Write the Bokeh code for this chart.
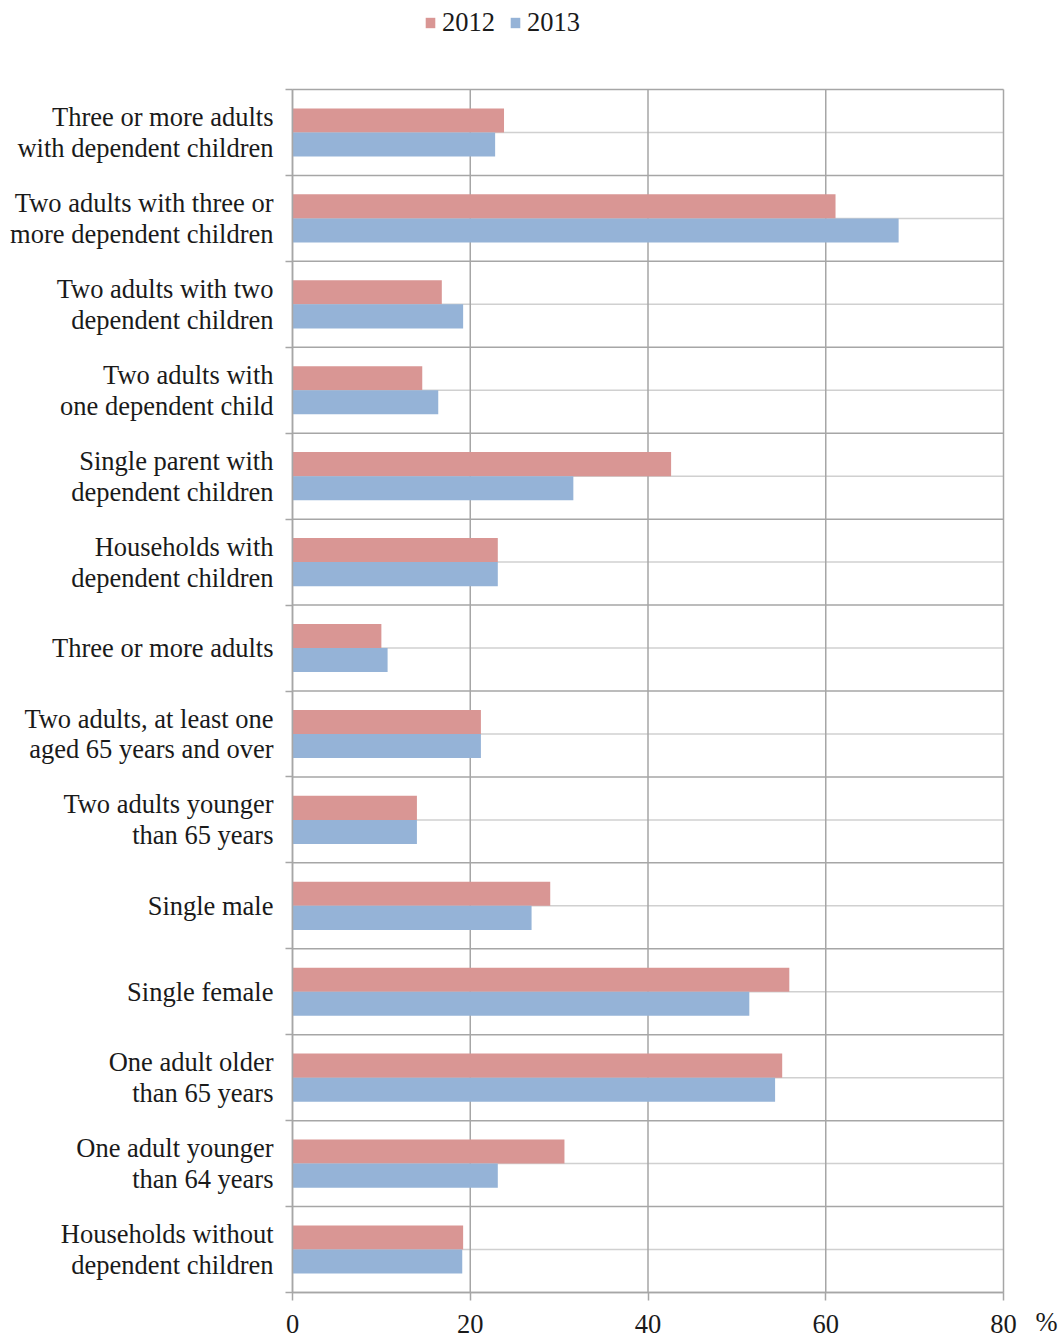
from bokeh.plotting import figure
from bokeh.models import ColumnDataSource, FixedTicker, Legend, LegendItem, Range1d
from bokeh.embed import file_html
from bokeh.resources import INLINE

# Household types, listed top to bottom
categories = [
    "Three or more adults\nwith dependent children",
    "Two adults with three or\nmore dependent children",
    "Two adults with two\ndependent children",
    "Two adults with\none dependent child",
    "Single parent with\ndependent children",
    "Households with\ndependent children",
    "Three or more adults",
    "Two adults, at least one\naged 65 years and over",
    "Two adults younger\nthan 65 years",
    "Single male",
    "Single female",
    "One adult older\nthan 65 years",
    "One adult younger\nthan 64 years",
    "Households without\ndependent children",
]
values_2012 = [23.8, 61.1, 16.8, 14.6, 42.6, 23.1, 10.0, 21.2, 14.0, 29.0, 55.9, 55.1, 30.6, 19.2]
values_2013 = [22.8, 68.2, 19.2, 16.4, 31.6, 23.1, 10.7, 21.2, 14.0, 26.9, 51.4, 54.3, 23.1, 19.1]
x_ticks = [0, 20, 40, 60, 80]
unit = "%"

FONT = "'Liberation Serif'"
FS = "26.5px"
C2012 = "#D99694"
C2013 = "#95B3D7"
GRID = "#A6A6A6"
GRID_MID = "#D0D0D0"
TXT = "#1a1a1a"

n = len(categories)
centers = [n - 1 - i for i in range(n)]
bounds = [c - 0.5 for c in range(n)] + [n - 0.5]
bar_h = 0.28
x_max = 80
y_lo, y_hi = -0.5, n - 0.5

# the frame fills the whole canvas; both axes are pinned to the data area's edges
W, H = 1064, 1337
AREA_L, AREA_R, AREA_T, AREA_B = 292, 1003, 89, 1292
px_x = (AREA_R - AREA_L) / x_max
px_y = (AREA_B - AREA_T) / n
x_range = Range1d(-AREA_L / px_x, x_max + (W - AREA_R) / px_x)
y_range = Range1d(y_lo - (H - AREA_B) / px_y, y_hi + AREA_T / px_y)

src = ColumnDataSource(dict(
    y12=[c + bar_h / 2 for c in centers],
    y13=[c - bar_h / 2 for c in centers],
    v12=values_2012,
    v13=values_2013,
))

p = figure(
    width=W, height=H,
    output_backend="svg", toolbar_location=None,
    x_range=x_range, y_range=y_range,
    min_border=0,
)
p.outline_line_color = None
p.background_fill_color = "white"
p.xgrid.visible = False
p.ygrid.visible = False

# grid lines, limited to the data area
p.segment(x0=0, x1=x_max, y0=centers, y1=centers,
          line_color=GRID_MID, line_width=1.5, level="underlay")
p.segment(x0=0, x1=x_max, y0=bounds, y1=bounds,
          line_color=GRID, line_width=1.5, level="underlay")
p.segment(x0=x_ticks, x1=x_ticks, y0=y_lo, y1=y_hi,
          line_color=GRID, line_width=1.5, level="underlay")

r12 = p.hbar(y="y12", right="v12", left=0, height=bar_h, source=src,
             fill_color=C2012, line_color=None)
r13 = p.hbar(y="y13", right="v13", left=0, height=bar_h, source=src,
             fill_color=C2013, line_color=None)

# category axis: labels at centres, tick marks at boundaries
ya = p.yaxis[0]
ya.fixed_location = 0
ya.bounds = (y_lo, y_hi)
ya.ticker = FixedTicker(ticks=centers, minor_ticks=bounds)
ya.major_label_overrides = {c: categories[i] for i, c in enumerate(centers)}
ya.major_tick_out = 0
ya.major_tick_in = 0
ya.minor_tick_out = 7
ya.minor_tick_in = 0
ya.minor_tick_line_color = GRID
ya.minor_tick_line_width = 1.5
ya.axis_line_color = GRID
ya.axis_line_width = 1.5
ya.major_label_text_font = FONT
ya.major_label_text_font_size = FS
ya.major_label_text_line_height = 1.03
ya.major_label_text_color = TXT
ya.major_label_standoff = 12

# value axis along the bottom edge of the data area
xa = p.xaxis[0]
xa.fixed_location = y_lo
xa.bounds = (0, x_max)
xa.ticker = FixedTicker(ticks=x_ticks)
xa.axis_line_color = GRID
xa.axis_line_width = 1.5
xa.major_tick_out = 8
xa.major_tick_in = 0
xa.major_tick_line_color = GRID
xa.major_tick_line_width = 1.5
xa.minor_tick_line_color = None
xa.major_label_text_font = FONT
xa.major_label_text_font_size = FS
xa.major_label_text_color = TXT
xa.major_label_standoff = 14

# unit sign next to the last tick label
p.text(x=[x_max], y=[y_lo], text=[unit], x_offset=43, y_offset=44,
       text_font=FONT, text_font_size=FS, text_color=TXT,
       text_align="center", text_baseline="bottom")

legend = Legend(
    items=[LegendItem(label="2012", renderers=[r12]),
           LegendItem(label="2013", renderers=[r13])],
    orientation="horizontal", location=(AREA_L + 132, H - 38),
    label_text_font=FONT, label_text_font_size=FS, label_text_color=TXT,
    glyph_width=12, glyph_height=13, label_standoff=6, spacing=14,
    border_line_color=None, background_fill_alpha=0, padding=0, margin=0,
)
p.add_layout(legend, "center")

open("out.html", "w").write(file_html(p, INLINE))
